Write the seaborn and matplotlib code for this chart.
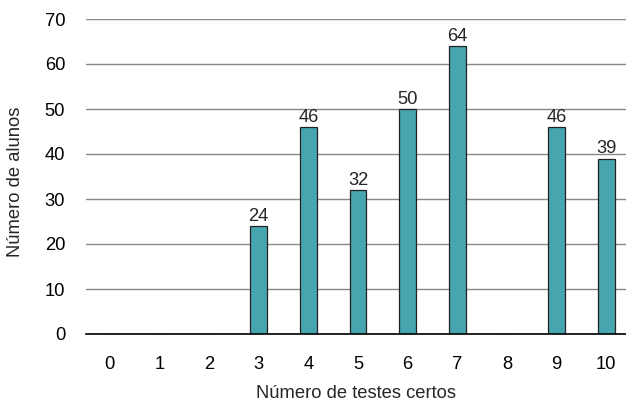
import matplotlib
matplotlib.use("Agg")
import matplotlib.pyplot as plt
import seaborn as sns
import pandas as pd

categories = ["0", "1", "2", "3", "4", "5", "6", "7", "8", "9", "10"]
values = [0, 0, 0, 24, 46, 32, 50, 64, 0, 46, 39]
yticks = [0, 10, 20, 30, 40, 50, 60, 70]

sns.set_style("white")
plt.rcParams['font.family'] = ['Liberation Sans', 'DejaVu Sans']

FS = 13.2
df = pd.DataFrame({"cat": categories, "val": values})

fig = plt.figure(figsize=(6.26, 4.03), dpi=100)
ax = fig.add_axes([86/626, 1 - 334/403, (626 - 86)/626, (334 - 19)/403])

sns.barplot(data=df, x="cat", y="val", order=categories, color="#46A5AE",
            saturation=1, width=0.34, edgecolor="#222222", linewidth=0.9,
            ax=ax, zorder=3)

ax.set_ylim(0, 70)
ax.set_xlim(-0.48, 10.4)
ax.set_yticks(yticks)
ax.yaxis.grid(True, color="#888888", linewidth=1.0, zorder=0)
ax.xaxis.grid(False)
ax.set_axisbelow(True)
for s in ["top", "right", "left"]:
    ax.spines[s].set_visible(False)
ax.spines["bottom"].set_color("black")
ax.spines["bottom"].set_linewidth(1.2)
ax.spines["bottom"].set_zorder(4)

ax.tick_params(axis="both", length=0, labelsize=FS, colors="black")
ax.tick_params(axis="y", pad=15)
ax.tick_params(axis="x", pad=16)

ax.set_xlabel("Número de testes certos", fontsize=FS)
ax.set_ylabel("Número de alunos", fontsize=FS)
ax.xaxis.set_label_coords(0.5, -60/315)
ax.xaxis.label.set_va("center")
ax.yaxis.set_label_coords(-70/540, (334 - 182)/315)
ax.yaxis.label.set_va("center")

labels = [str(v) if v else "" for v in values]
ax.bar_label(ax.containers[0], labels=labels, fontsize=FS, padding=1)

fig.savefig("out.png", dpi=100)
